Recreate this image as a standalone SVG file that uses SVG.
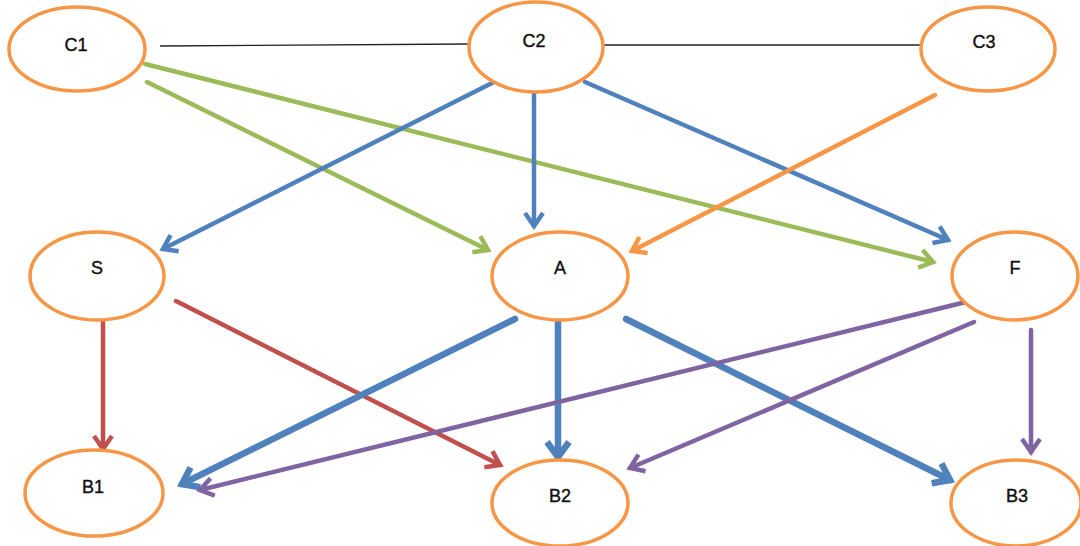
<svg xmlns="http://www.w3.org/2000/svg" width="1080" height="546" viewBox="0 0 1080 546">
<style>
.node{fill:#fff;stroke:#F79646;stroke-width:3.5}
.lbl{font-family:"Liberation Sans",Arial,sans-serif;font-size:18px;fill:#111;text-anchor:middle;stroke:#111;stroke-width:0.4}
.c{fill:none;stroke-linecap:round}
.blue{stroke:#4F81BD}
.green{stroke:#9BBB59}
.red{stroke:#C0504D}
.purple{stroke:#8064A2}
.orange{stroke:#F79646}
.thin{stroke-width:4.5}
.thick{stroke-width:6.5}
</style>
<defs>
<marker id="mb" viewBox="-20 -14 24 28" refX="0" refY="0" markerWidth="24" markerHeight="28" markerUnits="userSpaceOnUse" orient="auto" overflow="visible"><path d="M-13,-9 L0,0 L-13,9" fill="none" stroke="#4F81BD" stroke-width="4.5"/></marker>
<marker id="mbt" viewBox="-20 -14 24 28" refX="0" refY="0" markerWidth="24" markerHeight="28" markerUnits="userSpaceOnUse" orient="auto" overflow="visible"><path d="M-15,-11 L0,0 L-15,11" fill="none" stroke="#4F81BD" stroke-width="6.5"/></marker>
<marker id="mg" viewBox="-20 -14 24 28" refX="0" refY="0" markerWidth="24" markerHeight="28" markerUnits="userSpaceOnUse" orient="auto" overflow="visible"><path d="M-13,-9 L0,0 L-13,9" fill="none" stroke="#9BBB59" stroke-width="4.5"/></marker>
<marker id="mr" viewBox="-20 -14 24 28" refX="0" refY="0" markerWidth="24" markerHeight="28" markerUnits="userSpaceOnUse" orient="auto" overflow="visible"><path d="M-13,-9 L0,0 L-13,9" fill="none" stroke="#C0504D" stroke-width="4.5"/></marker>
<marker id="mp" viewBox="-20 -14 24 28" refX="0" refY="0" markerWidth="24" markerHeight="28" markerUnits="userSpaceOnUse" orient="auto" overflow="visible"><path d="M-13,-9 L0,0 L-13,9" fill="none" stroke="#8064A2" stroke-width="4.5"/></marker>
<marker id="mo" viewBox="-20 -14 24 28" refX="0" refY="0" markerWidth="24" markerHeight="28" markerUnits="userSpaceOnUse" orient="auto" overflow="visible"><path d="M-13,-9 L0,0 L-13,9" fill="none" stroke="#F79646" stroke-width="4.5"/></marker>
</defs>
<rect width="1080" height="546" fill="#fff"/>
<g id="connectors">
<line x1="160" y1="46" x2="470" y2="44" stroke="#222" stroke-width="1.3"/>
<line x1="603" y1="45" x2="921" y2="45" stroke="#222" stroke-width="1.3"/>
<line class="c green thin" x1="147" y1="82" x2="488" y2="250" marker-end="url(#mg)"/>
<line class="c green thin" x1="145" y1="64" x2="933" y2="262" marker-end="url(#mg)"/>
<line class="c blue thin" x1="492" y1="83" x2="163" y2="249" marker-end="url(#mb)"/>
<line class="c blue thin" x1="534" y1="93" x2="534" y2="226" marker-end="url(#mb)"/>
<line class="c blue thin" x1="585" y1="82" x2="948" y2="240" marker-end="url(#mb)"/>
<line class="c orange thin" x1="935" y1="95" x2="632" y2="251" marker-end="url(#mo)"/>
<line class="c red thin" x1="103" y1="320" x2="103" y2="449" marker-end="url(#mr)"/>
<line class="c red thin" x1="176" y1="301" x2="500" y2="465" marker-end="url(#mr)"/>
<line class="c blue thick" x1="515" y1="319" x2="182" y2="484" marker-end="url(#mbt)"/>
<line class="c blue thick" x1="558" y1="321" x2="558" y2="457" marker-end="url(#mbt)"/>
<line class="c blue thick" x1="626" y1="319" x2="950" y2="480" marker-end="url(#mbt)"/>
<line class="c purple thin" x1="974" y1="300" x2="200" y2="490" marker-end="url(#mp)"/>
<line class="c purple thin" x1="974" y1="322" x2="630" y2="468" marker-end="url(#mp)"/>
<line class="c purple thin" x1="1031" y1="330" x2="1031" y2="452" marker-end="url(#mp)"/>
</g>
<g id="C1"><ellipse class="node" cx="77" cy="49" rx="68" ry="42"/><text class="lbl" x="76" y="51">C1</text></g>
<g id="C2"><ellipse class="node" cx="536" cy="47" rx="67" ry="45"/><text class="lbl" x="534" y="47">C2</text></g>
<g id="C3"><ellipse class="node" cx="988" cy="49" rx="67" ry="42"/><text class="lbl" x="984" y="48">C3</text></g>
<g id="S"><ellipse class="node" cx="97" cy="276" rx="67" ry="44"/><text class="lbl" x="97" y="274">S</text></g>
<g id="A"><ellipse class="node" cx="560" cy="276" rx="68" ry="44"/><text class="lbl" x="560" y="274">A</text></g>
<g id="F"><ellipse class="node" cx="1015" cy="276" rx="63" ry="44"/><text class="lbl" x="1015" y="274">F</text></g>
<g id="B1"><ellipse class="node" cx="94" cy="493" rx="69" ry="43"/><text class="lbl" x="93" y="493">B1</text></g>
<g id="B2"><ellipse class="node" cx="560" cy="503" rx="68" ry="43"/><text class="lbl" x="560" y="502">B2</text></g>
<g id="B3"><ellipse class="node" cx="1016" cy="503" rx="65" ry="43"/><text class="lbl" x="1017" y="502">B3</text></g>
</svg>
